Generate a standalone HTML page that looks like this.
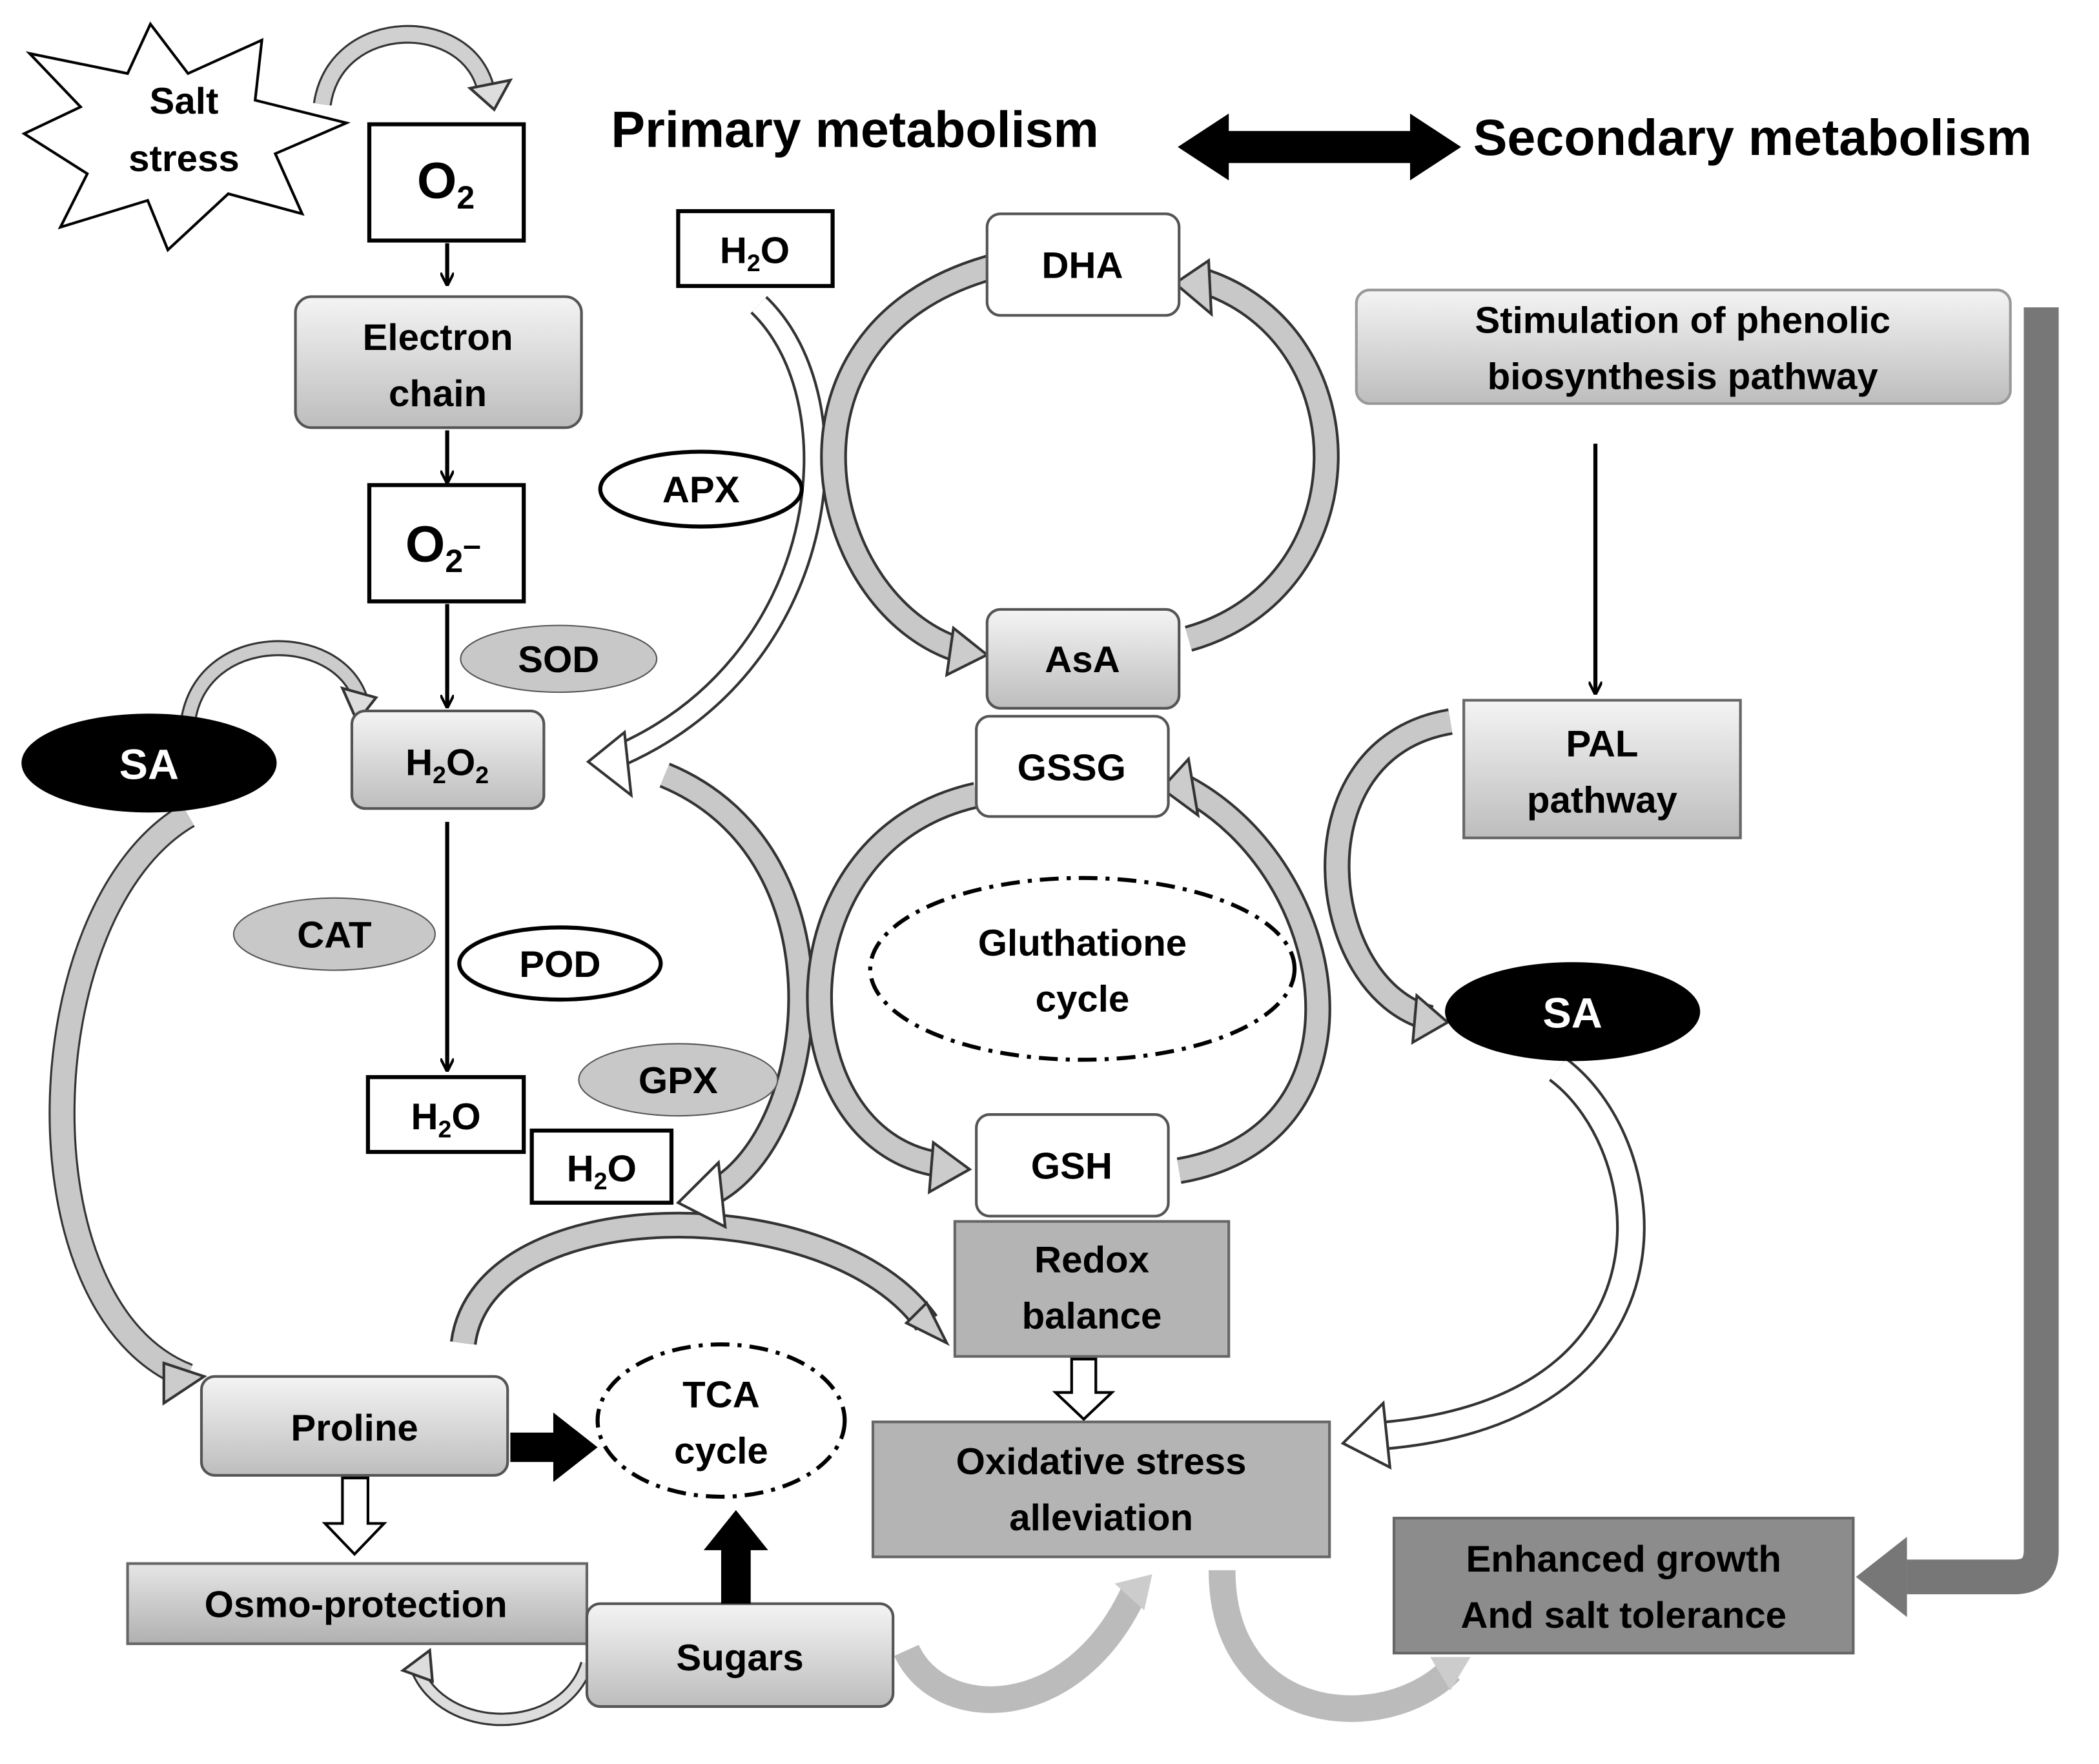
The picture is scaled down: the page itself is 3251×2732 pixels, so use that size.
<!DOCTYPE html>
<html><head><meta charset="utf-8"><style>
html,body{margin:0;padding:0;background:#fff;}
svg{display:block;}
text{font-family:"Liberation Sans",sans-serif;font-weight:bold;fill:#000;}
</style></head><body>
<svg width="3251" height="2732" viewBox="0 0 1563 1320" preserveAspectRatio="none" xmlns="http://www.w3.org/2000/svg">
<defs>
<linearGradient id="g" x1="0" y1="0" x2="0" y2="1"><stop offset="0" stop-color="#f4f4f4"/><stop offset="1" stop-color="#bdbdbd"/></linearGradient>
<linearGradient id="g2" x1="0" y1="0" x2="0" y2="1"><stop offset="0" stop-color="#e6e6e6"/><stop offset="1" stop-color="#b0b0b0"/></linearGradient>
<marker id="ah" markerWidth="10" markerHeight="10" refX="8" refY="5" orient="auto" markerUnits="userSpaceOnUse"><path d="M0,0 L10,5 L0,10" fill="none" stroke="#000" stroke-width="2"/></marker>
</defs>
<rect width="1563" height="1320" fill="#fff"/>

<!-- salt stress star -->
<polygon points="22,40 95,55 112,18 140,55 195,30 190,75 258,92 205,115 225,160 170,145 125,187 110,150 45,170 65,130 18,100 60,80" fill="#fff" stroke="#000" stroke-width="2"/>
<text x="137" y="85" font-size="28" text-anchor="middle">Salt</text>
<text x="137" y="128" font-size="28" text-anchor="middle">stress</text>

<!-- curved band helper style: outlined gray -->
<g fill="none" stroke-linecap="butt">
<!-- salt -> O2 -->
<path d="M240,78 C250,10 350,10 362,68" stroke="#333" stroke-width="14"/>
<path d="M240,78 C250,10 350,10 362,68" stroke="#d0d0d0" stroke-width="11"/>
<!-- SA -> H2O2 -->
<path d="M140,540 C150,470 250,470 268,522" stroke="#333" stroke-width="12"/>
<path d="M140,540 C150,470 250,470 268,522" stroke="#ccc" stroke-width="9"/>
<!-- SA -> proline -->
<path d="M140,610 C20,680 10,980 140,1030" stroke="#333" stroke-width="20"/>
<path d="M140,610 C20,680 10,980 140,1030" stroke="#c8c8c8" stroke-width="17"/>
<!-- H2O top -> H2O2 -->
<path d="M565,228 C640,300 620,500 455,568" stroke="#333" stroke-width="18"/>
<path d="M565,228 C640,300 620,500 455,568" stroke="#fff" stroke-width="14"/>
<!-- H2O2 -> H2O via right -->
<path d="M495,580 C640,640 610,860 525,895" stroke="#333" stroke-width="20"/>
<path d="M495,580 C640,640 610,860 525,895" stroke="#c8c8c8" stroke-width="16"/>
<!-- DHA/AsA cycle -->
<path d="M738,200 C560,250 610,460 720,488" stroke="#333" stroke-width="20"/>
<path d="M738,200 C560,250 610,460 720,488" stroke="#c8c8c8" stroke-width="16"/>
<path d="M885,478 C1020,440 1020,250 895,210" stroke="#333" stroke-width="20"/>
<path d="M885,478 C1020,440 1020,250 895,210" stroke="#c8c8c8" stroke-width="16"/>
<!-- GSSG/GSH cycle -->
<path d="M727,595 C570,630 580,860 705,872" stroke="#333" stroke-width="20"/>
<path d="M727,595 C570,630 580,860 705,872" stroke="#c8c8c8" stroke-width="16"/>
<path d="M878,876 C1030,850 1000,650 880,588" stroke="#333" stroke-width="20"/>
<path d="M878,876 C1030,850 1000,650 880,588" stroke="#c8c8c8" stroke-width="16"/>
<!-- Proline -> Redox -->
<path d="M345,1005 C360,890 620,890 690,990" stroke="#333" stroke-width="20"/>
<path d="M345,1005 C360,890 620,890 690,990" stroke="#c8c8c8" stroke-width="16"/>
<!-- PAL -> SA -->
<path d="M1080,540 C960,560 980,740 1065,762" stroke="#333" stroke-width="20"/>
<path d="M1080,540 C960,560 980,740 1065,762" stroke="#c8c8c8" stroke-width="16"/>
<!-- SA -> Oxidative -->
<path d="M1160,800 C1240,860 1260,1060 1020,1075" stroke="#333" stroke-width="22"/>
<path d="M1160,800 C1240,860 1260,1060 1020,1075" stroke="#fff" stroke-width="18"/>
<!-- sugars -> osmo -->
<path d="M437,1245 C420,1300 330,1300 310,1248" stroke="#333" stroke-width="10"/>
<path d="M437,1245 C420,1300 330,1300 310,1248" stroke="#ddd" stroke-width="7"/>
<!-- sugars -> oxidative (faded) -->
<path d="M675,1235 C700,1290 800,1290 845,1190" stroke="#bbb" stroke-width="20"/>
<path d="M910,1175 C910,1290 1030,1300 1080,1250" stroke="#bbb" stroke-width="20"/>
<!-- right connector -->
<path d="M1520,230 L1520,1160 Q1520,1180 1500,1180 L1420,1180" stroke="#777" stroke-width="26"/>
</g>
<!-- arrowheads -->
<polygon points="350,66 380,60 368,82" fill="#ddd" stroke="#333" stroke-width="2"/>
<polygon points="255,515 280,522 266,540" fill="#ddd" stroke="#333" stroke-width="2"/>
<polygon points="122,1020 152,1030 122,1050" fill="#ccc" stroke="#333" stroke-width="2"/>
<polygon points="465,548 438,570 470,595" fill="#fff" stroke="#333" stroke-width="2"/>
<polygon points="535,870 505,900 540,918" fill="#fff" stroke="#333" stroke-width="2"/>
<polygon points="710,470 735,490 705,505" fill="#ccc" stroke="#333" stroke-width="2"/>
<polygon points="900,195 875,212 902,235" fill="#ccc" stroke="#333" stroke-width="2"/>
<polygon points="695,855 722,875 692,892" fill="#ccc" stroke="#333" stroke-width="2"/>
<polygon points="885,568 865,590 892,610" fill="#ccc" stroke="#333" stroke-width="2"/>
<polygon points="675,990 705,1005 690,975" fill="#ccc" stroke="#333" stroke-width="2"/>
<polygon points="1055,745 1078,765 1052,780" fill="#ccc" stroke="#333" stroke-width="2"/>
<polygon points="1030,1050 1000,1080 1035,1098" fill="#fff" stroke="#333" stroke-width="2"/>
<polygon points="300,1250 320,1235 322,1258" fill="#ddd" stroke="#333" stroke-width="2"/>
<polygon points="830,1185 858,1178 852,1205" fill="#ccc"/>
<polygon points="1065,1240 1095,1240 1080,1265" fill="#ccc"/>
<polygon points="1420,1150 1382,1180 1420,1210" fill="#777"/>

<!-- title -->
<text x="455" y="110" font-size="38">Primary metabolism</text>
<text x="1097" y="116" font-size="38">Secondary metabolism</text>
<polygon points="877,110 915,85 915,98 1050,98 1050,85 1088,110 1050,135 1050,122 915,122 915,135" fill="#000"/>

<!-- boxes -->
<rect x="275" y="93" width="115" height="87" fill="#fff" stroke="#000" stroke-width="3"/>
<text x="332" y="148" font-size="38" text-anchor="middle">O<tspan font-size="24" dy="8">2</tspan></text>
<line x1="333" y1="182" x2="333" y2="212" stroke="#000" stroke-width="3" marker-end="url(#ah)"/>
<rect x="220" y="222" width="213" height="98" rx="12" fill="url(#g)" stroke="#555" stroke-width="2"/>
<text x="326" y="262" font-size="28" text-anchor="middle">Electron</text>
<text x="326" y="304" font-size="28" text-anchor="middle">chain</text>
<line x1="333" y1="322" x2="333" y2="360" stroke="#000" stroke-width="3" marker-end="url(#ah)"/>
<rect x="275" y="363" width="115" height="87" fill="#fff" stroke="#000" stroke-width="3"/>
<text x="330" y="420" font-size="38" text-anchor="middle">O<tspan font-size="24" dy="8">2</tspan><tspan dy="-12" font-size="24">–</tspan></text>
<line x1="333" y1="452" x2="333" y2="528" stroke="#000" stroke-width="3" marker-end="url(#ah)"/>
<ellipse cx="416" cy="493" rx="73" ry="25" fill="#c8c8c8" stroke="#555"/>
<text x="416" y="503" font-size="28" text-anchor="middle">SOD</text>
<rect x="262" y="532" width="143" height="73" rx="10" fill="url(#g)" stroke="#555" stroke-width="2"/>
<text x="333" y="580" font-size="28" text-anchor="middle">H<tspan font-size="18" dy="6">2</tspan><tspan dy="-6">O</tspan><tspan font-size="18" dy="6">2</tspan></text>
<ellipse cx="111" cy="571" rx="95" ry="37" fill="#000"/>
<text x="111" y="583" font-size="32" text-anchor="middle" style="fill:#fff">SA</text>
<line x1="333" y1="615" x2="333" y2="800" stroke="#000" stroke-width="3" marker-end="url(#ah)"/>
<ellipse cx="249" cy="699" rx="75" ry="27" fill="#c8c8c8" stroke="#555"/>
<text x="249" y="709" font-size="28" text-anchor="middle">CAT</text>
<ellipse cx="417" cy="721" rx="75" ry="27" fill="#fff" stroke="#000" stroke-width="3"/>
<text x="417" y="731" font-size="28" text-anchor="middle">POD</text>
<ellipse cx="505" cy="808" rx="74" ry="27" fill="#c8c8c8" stroke="#555"/>
<text x="505" y="818" font-size="28" text-anchor="middle">GPX</text>
<rect x="274" y="806" width="116" height="56" fill="#fff" stroke="#000" stroke-width="3"/>
<text x="332" y="845" font-size="28" text-anchor="middle">H<tspan font-size="18" dy="6">2</tspan><tspan dy="-6">O</tspan></text>
<rect x="396" y="846" width="104" height="54" fill="#fff" stroke="#000" stroke-width="3"/>
<text x="448" y="884" font-size="28" text-anchor="middle">H<tspan font-size="18" dy="6">2</tspan><tspan dy="-6">O</tspan></text>
<ellipse cx="522" cy="366" rx="75" ry="28" fill="#fff" stroke="#000" stroke-width="3"/>
<text x="522" y="376" font-size="28" text-anchor="middle">APX</text>
<rect x="505" y="158" width="115" height="56" fill="#fff" stroke="#000" stroke-width="3"/>
<text x="562" y="197" font-size="28" text-anchor="middle">H<tspan font-size="18" dy="6">2</tspan><tspan dy="-6">O</tspan></text>

<rect x="735" y="160" width="143" height="76" rx="10" fill="#fff" stroke="#555" stroke-width="2"/>
<text x="806" y="208" font-size="28" text-anchor="middle">DHA</text>
<rect x="735" y="456" width="143" height="74" rx="10" fill="url(#g)" stroke="#555" stroke-width="2"/>
<text x="806" y="503" font-size="28" text-anchor="middle">AsA</text>
<rect x="727" y="536" width="143" height="75" rx="10" fill="#fff" stroke="#555" stroke-width="2"/>
<text x="798" y="584" font-size="28" text-anchor="middle">GSSG</text>
<ellipse cx="806" cy="725" rx="158" ry="68" fill="none" stroke="#000" stroke-width="3" stroke-dasharray="14,6,3,6"/>
<text x="806" y="715" font-size="28" text-anchor="middle">Gluthatione</text>
<text x="806" y="757" font-size="28" text-anchor="middle">cycle</text>
<rect x="727" y="834" width="143" height="76" rx="10" fill="#fff" stroke="#555" stroke-width="2"/>
<text x="798" y="882" font-size="28" text-anchor="middle">GSH</text>
<rect x="711" y="914" width="204" height="101" fill="#b4b4b4" stroke="#666" stroke-width="2"/>
<text x="813" y="952" font-size="28" text-anchor="middle">Redox</text>
<text x="813" y="994" font-size="28" text-anchor="middle">balance</text>
<polygon points="798,1017 816,1017 816,1042 828,1042 807,1062 786,1042 798,1042" fill="#fff" stroke="#000" stroke-width="2"/>
<rect x="650" y="1064" width="340" height="101" fill="#b4b4b4" stroke="#666" stroke-width="2"/>
<text x="820" y="1103" font-size="28" text-anchor="middle">Oxidative stress</text>
<text x="820" y="1145" font-size="28" text-anchor="middle">alleviation</text>

<rect x="150" y="1030" width="228" height="74" rx="10" fill="url(#g)" stroke="#555" stroke-width="2"/>
<text x="264" y="1078" font-size="28" text-anchor="middle">Proline</text>
<polygon points="380,1072 412,1072 412,1057 445,1083 412,1109 412,1094 380,1094" fill="#000"/>
<ellipse cx="537" cy="1063" rx="92" ry="57" fill="none" stroke="#000" stroke-width="3" stroke-dasharray="14,6,3,6"/>
<text x="537" y="1053" font-size="28" text-anchor="middle" font-weight="normal">TCA</text>
<text x="537" y="1095" font-size="28" text-anchor="middle" font-weight="normal">cycle</text>
<polygon points="255,1106 274,1106 274,1140 286,1140 264,1163 242,1140 255,1140" fill="#fff" stroke="#000" stroke-width="2"/>
<rect x="95" y="1170" width="342" height="60" fill="url(#g2)" stroke="#666" stroke-width="2"/>
<text x="265" y="1210" font-size="28" text-anchor="middle">Osmo-protection</text>
<rect x="437" y="1200" width="228" height="77" rx="10" fill="url(#g)" stroke="#555" stroke-width="2"/>
<text x="551" y="1250" font-size="28" text-anchor="middle">Sugars</text>
<polygon points="537,1200 537,1160 524,1160 548,1130 572,1160 559,1160 559,1200" fill="#000"/>

<rect x="1010" y="217" width="487" height="85" rx="10" fill="url(#g)" stroke="#999" stroke-width="2"/>
<text x="1253" y="249" font-size="28" text-anchor="middle">Stimulation of phenolic</text>
<text x="1253" y="291" font-size="28" text-anchor="middle">biosynthesis pathway</text>
<line x1="1188" y1="332" x2="1188" y2="518" stroke="#000" stroke-width="3" marker-end="url(#ah)"/>
<rect x="1090" y="524" width="206" height="103" fill="url(#g)" stroke="#666" stroke-width="2"/>
<text x="1193" y="566" font-size="28" text-anchor="middle">PAL</text>
<text x="1193" y="608" font-size="28" text-anchor="middle">pathway</text>
<ellipse cx="1171" cy="757" rx="95" ry="37" fill="#000"/>
<text x="1171" y="769" font-size="32" text-anchor="middle" style="fill:#fff">SA</text>
<rect x="1038" y="1136" width="342" height="101" fill="#8c8c8c" stroke="#666" stroke-width="2"/>
<text x="1209" y="1176" font-size="28" text-anchor="middle">Enhanced growth</text>
<text x="1209" y="1218" font-size="28" text-anchor="middle">And salt tolerance</text>
</svg>
</body></html>
